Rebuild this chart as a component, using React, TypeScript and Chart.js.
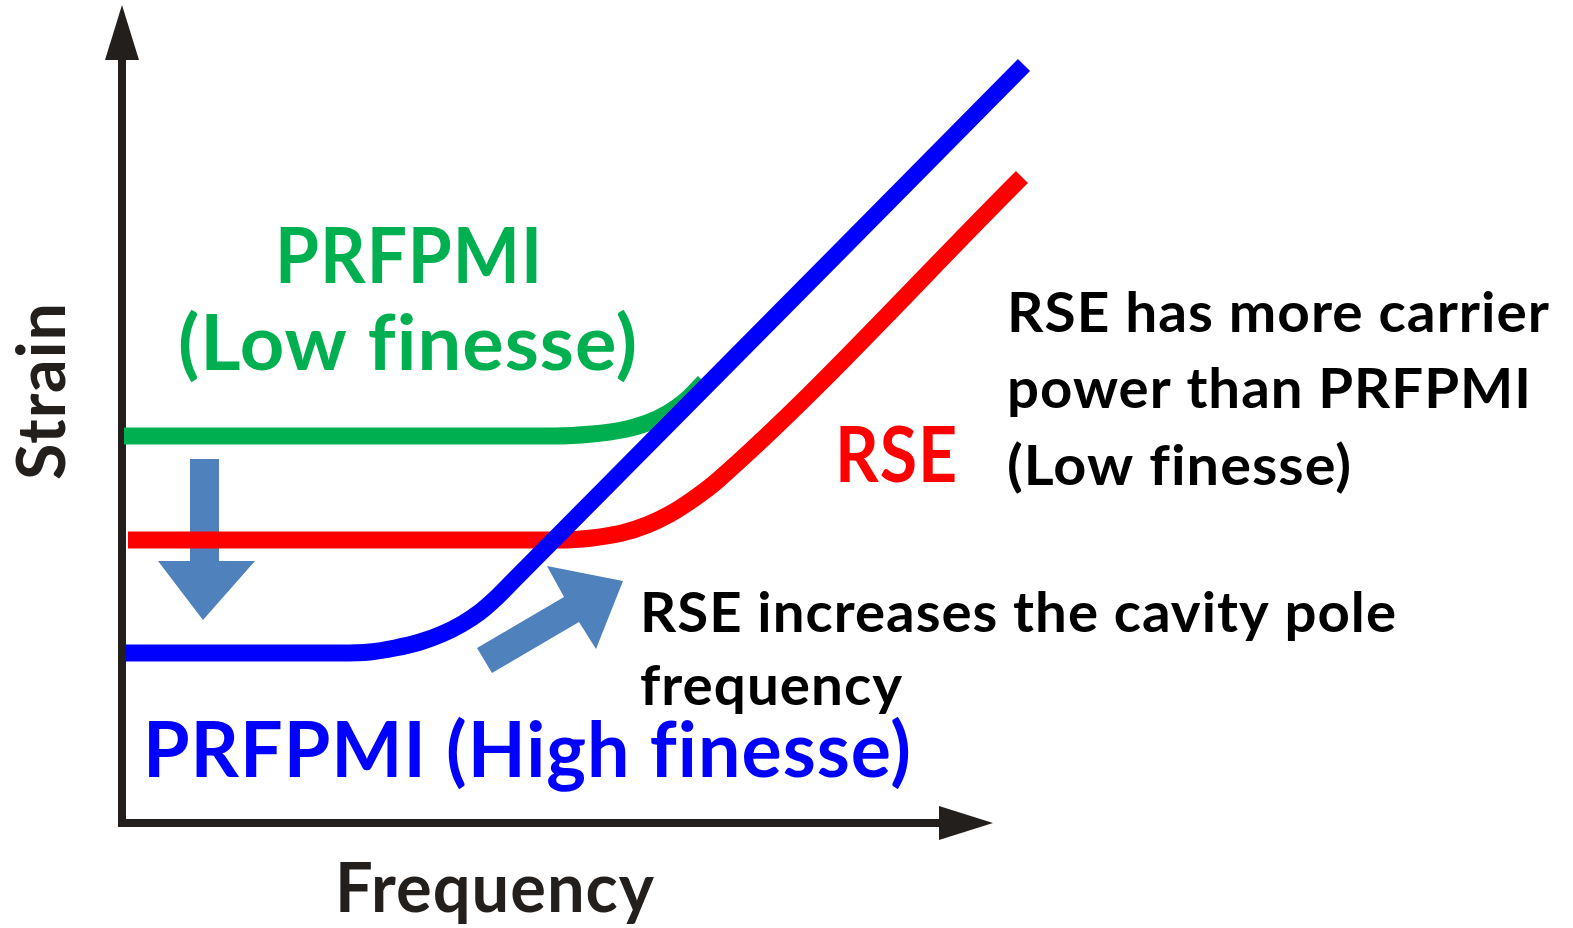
import React, { useEffect, useRef } from "react";
import { Chart, registerables } from "chart.js";

Chart.register(...registerables);

// ---- Data (schematic units: frequency / strain) ----
const greenFreq = [2, 433, 470, 500, 525, 546, 563, 582];
const greenStrain = [387, 387, 389, 393, 400, 410, 422, 441];

const redFreq = [6, 438, 470, 500, 525, 548, 570, 595, 900];
const redStrain = [283, 283, 285, 290, 298, 309, 323, 342, 646];

const blueFreq = [4, 218, 248, 273, 298, 320, 340, 358, 373, 388, 902];
const blueStrain = [170, 170, 171, 175, 181, 189, 199, 211, 224, 239, 758];

const seriesNames = ["PRFPMI (Low finesse)", "RSE", "PRFPMI (High finesse)"];
const seriesColors = ["#00b050", "#ff0000", "#0000ff"];

// annotation texts
const labelTexts = [
  "PRFPMI",
  "(Low finesse)",
  "RSE",
  "RSE has more carrier",
  "power than PRFPMI",
  "(Low finesse)",
  "RSE increases the cavity pole",
  "frequency",
  "PRFPMI (High finesse)",
];
const xAxisTitle = "Frequency";
const yAxisTitle = "Strain";

// layout for annotation texts (data units), kept separate from data
const labelLayout = [
  { x: 153, y: 540, w: 268, size: 76, color: "#00b050" },
  { x: 56, y: 453, w: 460, size: 76, color: "#00b050" },
  { x: 713, y: 341, w: 123, size: 76, color: "#ff0000" },
  { x: 885, y: 491, w: 543, size: 56, color: "#000000" },
  { x: 885, y: 415, w: 525, size: 56, color: "#000000" },
  { x: 885, y: 338, w: 345, size: 56, color: "#000000" },
  { x: 518, y: 191, w: 757, size: 56, color: "#000000" },
  { x: 518, y: 118, w: 263, size: 56, color: "#000000" },
  { x: 21, y: 46, w: 769, size: 76, color: "#0000ff" },
];

const FONT = "Lato, 'Open Sans', sans-serif";
const AXIS_COLOR = "#231f1c";
const ARROW_COLOR = "#4f81bd";

const downArrow = [
  [68, 364], [97, 364], [97, 262], [133, 262], [81, 203], [36, 262], [68, 262],
];
const diagArrow = [
  [355, 175], [442, 226], [425, 257], [501, 242], [474, 174], [457, 201], [370, 150],
];

function toPts(xs: number[], ys: number[]) {
  return xs.map((x, i) => ({ x, y: ys[i] }));
}

function fitText(
  ctx: CanvasRenderingContext2D,
  text: string,
  x: number,
  y: number,
  w: number,
  size: number,
  color: string,
  rot = 0
) {
  ctx.save();
  ctx.font = `bold ${size}px ${FONT}`;
  const anyCtx = ctx as any;
  let t = text;
  if ("letterSpacing" in anyCtx) {
    anyCtx.letterSpacing = "1px"; // non-zero spacing turns off the "fi" ligature
  } else {
    t = text.replace(/fi/g, "f\u200Ci");
  }
  ctx.fillStyle = color;
  ctx.textAlign = "left";
  ctx.textBaseline = "alphabetic";
  const mw = ctx.measureText(t).width;
  const sx = w / mw;
  ctx.translate(x, y);
  if (rot) ctx.rotate(rot);
  ctx.scale(sx, 1);
  ctx.fillText(t, 0, 0);
  ctx.restore();
}

const decorPlugin = {
  id: "decor",
  beforeDatasetsDraw(chart: any) {
    const ctx: CanvasRenderingContext2D = chart.ctx;
    const xs = chart.scales.x;
    const ys = chart.scales.y;
    const px = (v: number) => xs.getPixelForValue(v);
    const py = (v: number) => ys.getPixelForValue(v);
    ctx.save();
    // axes
    ctx.strokeStyle = AXIS_COLOR;
    ctx.fillStyle = AXIS_COLOR;
    ctx.lineWidth = 8;
    ctx.beginPath();
    ctx.moveTo(px(0), py(-4));
    ctx.lineTo(px(0), py(765));
    ctx.moveTo(px(-4), py(0));
    ctx.lineTo(px(819), py(0));
    ctx.stroke();
    ctx.beginPath();
    ctx.moveTo(px(0), py(818));
    ctx.lineTo(px(-17), py(763));
    ctx.lineTo(px(17), py(763));
    ctx.closePath();
    ctx.fill();
    ctx.beginPath();
    ctx.moveTo(px(871), py(0));
    ctx.lineTo(px(817), py(17));
    ctx.lineTo(px(817), py(-17));
    ctx.closePath();
    ctx.fill();
    // down arrow (under the lines)
    ctx.fillStyle = ARROW_COLOR;
    ctx.beginPath();
    downArrow.forEach(([a, b], i) => (i ? ctx.lineTo(px(a), py(b)) : ctx.moveTo(px(a), py(b))));
    ctx.closePath();
    ctx.fill();
    ctx.restore();
  },
  afterDatasetsDraw(chart: any) {
    const ctx: CanvasRenderingContext2D = chart.ctx;
    const xs = chart.scales.x;
    const ys = chart.scales.y;
    const px = (v: number) => xs.getPixelForValue(v);
    const py = (v: number) => ys.getPixelForValue(v);
    ctx.save();
    ctx.fillStyle = ARROW_COLOR;
    ctx.beginPath();
    diagArrow.forEach(([a, b], i) => (i ? ctx.lineTo(px(a), py(b)) : ctx.moveTo(px(a), py(b))));
    ctx.closePath();
    ctx.fill();
    ctx.restore();
    labelTexts.forEach((t, i) => {
      const L = labelLayout[i];
      fitText(ctx, t, px(L.x), py(L.y), L.w, L.size, L.color);
    });
    fitText(ctx, xAxisTitle, px(213), py(-89), 320, 68, AXIS_COLOR);
    fitText(ctx, yAxisTitle, px(-57), py(343), 178, 66, AXIS_COLOR, -Math.PI / 2);
  },
};

export default function App() {
  const ref = useRef<HTMLCanvasElement>(null);
  useEffect(() => {
    document.body.style.margin = "0";
    const canvas = ref.current!;
    const mk = (xs: number[], ys: number[], i: number, order: number) => ({
      label: seriesNames[i],
      data: toPts(xs, ys),
      borderColor: seriesColors[i],
      backgroundColor: seriesColors[i],
      borderWidth: 17,
      pointRadius: 0,
      cubicInterpolationMode: "monotone" as const,
      borderCapStyle: "butt" as const,
      borderJoinStyle: "round" as const,
      fill: false,
      clip: false as any,
      order,
    });
    const chart = new Chart(canvas, {
      type: "line",
      data: {
        datasets: [
          mk(blueFreq, blueStrain, 2, 0),
          mk(redFreq, redStrain, 1, 1),
          mk(greenFreq, greenStrain, 0, 2),
        ],
      },
      options: {
        animation: false,
        responsive: false,
        devicePixelRatio: 1,
        layout: { padding: { left: 122, right: 451, top: 23, bottom: 105 } },
        scales: {
          x: { type: "linear", min: 0, max: 1000, display: false },
          y: { type: "linear", min: 0, max: 800, display: false },
        },
        plugins: { legend: { display: false }, tooltip: { enabled: false } },
      },
      plugins: [decorPlugin],
    });
    return () => chart.destroy();
  }, []);
  return (
    <div style={{ width: 1573, height: 928, background: "#fff" }}>
      <canvas ref={ref} width={1573} height={928} style={{ display: "block" }} />
    </div>
  );
}
